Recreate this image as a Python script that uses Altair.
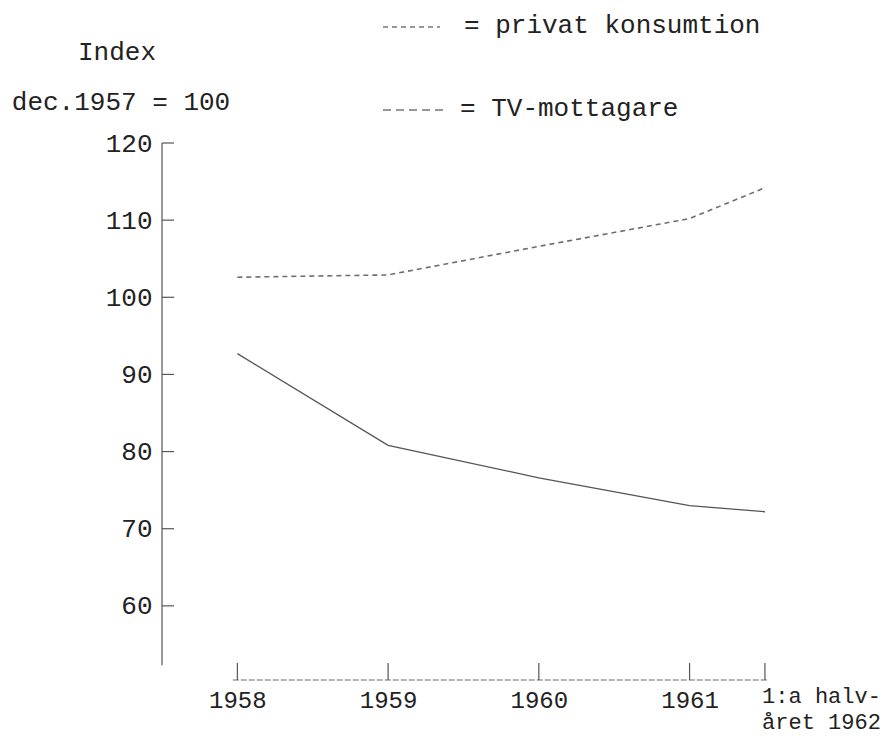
import altair as alt
import pandas as pd

# ---- data ----
years = [1958, 1959, 1960, 1961, 1961.5]
year_labels = ["1958", "1959", "1960", "1961", "1:a halvåret 1962"]
privat_konsumtion = [102.6, 102.9, 106.6, 110.2, 114.2]
tv_mottagare = [92.7, 80.8, 76.6, 73.0, 72.2]
y_ticks = [60, 70, 80, 90, 100, 110, 120]
x_ticks = [1958, 1959, 1960, 1961]

W, H = 618, 540
FONT = "Liberation Mono"
INK = "#222222"

xscale = alt.Scale(domain=[1957.5, 1961.6], nice=False, zero=False)
yscale = alt.Scale(domain=[50, 120], nice=False, zero=False)

df_p = pd.DataFrame({"x": years, "y": privat_konsumtion})
df_t = pd.DataFrame({"x": years, "y": tv_mottagare})

xaxis = alt.Axis(values=x_ticks, format="d", domain=False, ticks=False, grid=False,
                 labelFont=FONT, labelFontSize=24, labelColor=INK, labelPadding=5,
                 title=None)
yaxis = alt.Axis(values=y_ticks, domain=False, ticks=False, grid=False,
                 labelFont=FONT, labelFontSize=26, labelColor=INK, labelPadding=10,
                 title=None)

line_p = alt.Chart(df_p).mark_line(color="#6e6e6e", strokeWidth=1.6, strokeDash=[5, 4]).encode(
    x=alt.X("x:Q", scale=xscale, axis=xaxis),
    y=alt.Y("y:Q", scale=yscale, axis=yaxis),
)
line_t = alt.Chart(df_t).mark_line(color="#555555", strokeWidth=1.3).encode(
    x=alt.X("x:Q", scale=xscale),
    y=alt.Y("y:Q", scale=yscale),
)

# axis lines and inward ticks
yline = alt.Chart(pd.DataFrame({"y": [120], "y2": [52.3]})).mark_rule(color="#555", strokeWidth=1.2).encode(
    x=alt.value(0), y=alt.Y("y:Q", scale=yscale), y2="y2:Q")
yt = alt.Chart(pd.DataFrame({"v": y_ticks})).mark_rule(color="#555", strokeWidth=1.2).encode(
    x=alt.value(0), x2=alt.value(12), y=alt.Y("v:Q", scale=yscale))
xline = alt.Chart(pd.DataFrame({"x": [1957.97], "x2": [1961.52]})).mark_rule(
    color="#666", strokeWidth=1.2, strokeDash=[6, 2]).encode(
    x=alt.X("x:Q", scale=xscale), x2="x2:Q", y=alt.value(H - 3))
xt = alt.Chart(pd.DataFrame({"v": years})).mark_rule(color="#555", strokeWidth=1.2).encode(
    x=alt.X("v:Q", scale=xscale), y=alt.value(H - 20), y2=alt.value(H - 3))

last_label = alt.Chart(pd.DataFrame({"x": [years[-1]], "t": [["1:a halv-", "året 1962"]]})).mark_text(
    font=FONT, fontSize=22, color=INK, align="right", baseline="top", dx=116, dy=3, lineHeight=26
).encode(x=alt.X("x:Q", scale=xscale), y=alt.value(H), text="t")

one = pd.DataFrame({"a": [0]})

def txt(s, x, y, align="left", size=26):
    return alt.Chart(one).mark_text(text=s, font=FONT, fontSize=size, color=INK,
                                    align=align, baseline="middle").encode(
        x=alt.value(x), y=alt.value(y))

title1 = txt("Index", -45, -91, "center", 26)
title2 = txt("dec.1957 = 100", -41, -41, "center", 26)
leg1_line = alt.Chart(one).mark_rule(color="#777", strokeWidth=1.4, strokeDash=[5, 4]).encode(
    x=alt.value(221), x2=alt.value(278), y=alt.value(-116))
leg1_txt = txt("= privat konsumtion", 302, -118)
leg2_line = alt.Chart(one).mark_rule(color="#777", strokeWidth=1.4, strokeDash=[8, 5]).encode(
    x=alt.value(221), x2=alt.value(283), y=alt.value(-33))
leg2_txt = txt("= TV-mottagare", 298, -35)

chart = alt.layer(
    line_p, line_t, yline, yt, xline, xt, last_label,
    title1, title2, leg1_line, leg1_txt, leg2_line, leg2_txt,
).properties(
    width=W, height=H,
    autosize=alt.AutoSizeParams(type="none"),
    padding={"left": 154, "top": 135, "right": 105, "bottom": 52},
    background="white",
).configure_view(stroke=None)

chart.save("out.html", embed_options={"renderer": "svg", "actions": False})
